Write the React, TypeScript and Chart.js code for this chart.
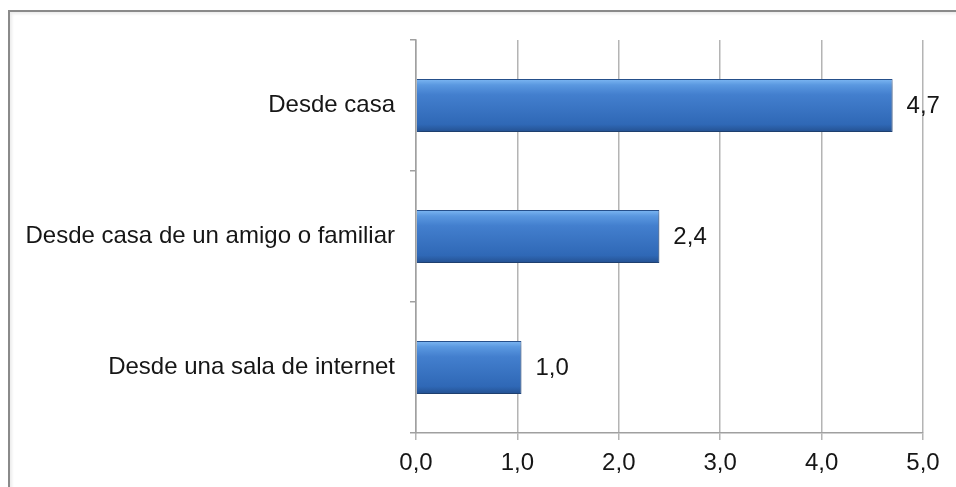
import React, { useEffect, useRef } from "react";
import { Chart, registerables } from "chart.js";

Chart.register(...registerables);

const categories = ["Desde casa", "Desde casa de un amigo o familiar", "Desde una sala de internet"];
const values = [4.7, 2.4, 1.04];
const xTicks = [0, 1, 2, 3, 4, 5];

const FONT = '"Liberation Sans", Arial, sans-serif';
const fmt = (v: number) => v.toFixed(1).replace(".", ",");

const valueLabels = {
  id: "valueLabels",
  afterDatasetsDraw(chart: any) {
    const ctx = chart.ctx;
    const meta = chart.getDatasetMeta(0);
    ctx.save();
    ctx.font = `24px ${FONT}`;
    ctx.fillStyle = "#161616";
    ctx.textAlign = "left";
    ctx.textBaseline = "middle";
    meta.data.forEach((el: any, i: number) => {
      ctx.fillText(fmt(values[i]), el.x + 14, el.y + 1);
    });
    ctx.restore();
  },
};

const barShadow = {
  id: "barShadow",
  beforeDatasetsDraw(chart: any) {
    const ctx = chart.ctx;
    ctx.save();
    ctx.shadowColor = "rgba(0,0,0,0.28)";
    ctx.shadowBlur = 5;
    ctx.shadowOffsetX = 1;
    ctx.shadowOffsetY = 3;
  },
  afterDatasetsDraw(chart: any) {
    chart.ctx.restore();
  },
};

export default function App() {
  const ref = useRef<HTMLCanvasElement>(null);
  useEffect(() => {
    if (!ref.current) return;
    const chart = new Chart(ref.current, {
      type: "bar",
      data: {
        labels: categories,
        datasets: [
          {
            data: values,
            backgroundColor: (c: any) => {
              const ch = c.chart;
              const ys = ch.scales?.y;
              if (!ys || c.dataIndex === undefined) return "#3c78c9";
              const cy = ys.getPixelForValue(c.dataIndex);
              if (!isFinite(cy)) return "#3c78c9";
              const h = 27;
              const g = ch.ctx.createLinearGradient(0, cy - h, 0, cy + h);
              g.addColorStop(0, "#80baf4");
              g.addColorStop(0.12, "#5a98e0");
              g.addColorStop(0.3, "#437fce");
              g.addColorStop(0.85, "#2f68b6");
              g.addColorStop(1, "#234f8e");
              return g;
            },
            borderColor: "#26508c",
            borderWidth: 1,
            categoryPercentage: 1,
            barPercentage: 0.405,
          },
        ],
      },
      options: {
        indexAxis: "y",
        responsive: false,
        animation: false,
        layout: { padding: { left: 0, right: 33, top: 40, bottom: 0 } },
        plugins: { legend: { display: false }, tooltip: { enabled: false } },
        scales: {
          x: {
            min: 0,
            max: 5,
            afterBuildTicks: (s: any) => {
              s.ticks = xTicks.map((v) => ({ value: v }));
            },
            afterFit: (s: any) => {
              s.height = 54;
            },
            grid: { color: "#b4b4b4", lineWidth: 1.5, tickLength: 7, drawTicks: true },
            border: { display: true, color: "#a0a0a0", width: 1.5 },
            ticks: {
              color: "#161616",
              font: { family: FONT, size: 24 },
              padding: 9,
              callback: (v: any) => fmt(Number(v)),
            },
          },
          y: {
            afterFit: (s: any) => {
              s.width = 416;
            },
            grid: { display: true, drawOnChartArea: false, offset: true, tickLength: 6, color: "#a0a0a0", lineWidth: 1.5 },
            border: { display: true, color: "#a0a0a0", width: 1.5 },
            ticks: {
              color: "#161616",
              font: { family: FONT, size: 24 },
              padding: 15,
            },
          },
        },
      },
      plugins: [barShadow, valueLabels],
    } as any);
    return () => chart.destroy();
  }, []);

  return (
    <div style={{ position: "fixed", left: 0, top: 0, width: 956, height: 487, background: "#fff", overflow: "hidden" }}>
      <div
        style={{
          position: "absolute",
          left: 8,
          top: 10,
          width: 1100,
          height: 700,
          border: "2px solid #8a8a8a",
          boxSizing: "border-box",
          boxShadow: "inset 2px 2px 3px rgba(0,0,0,0.08)",
        }}
      />
      <canvas ref={ref} width={956} height={487} style={{ position: "absolute", left: 0, top: 0 }} />
    </div>
  );
}
